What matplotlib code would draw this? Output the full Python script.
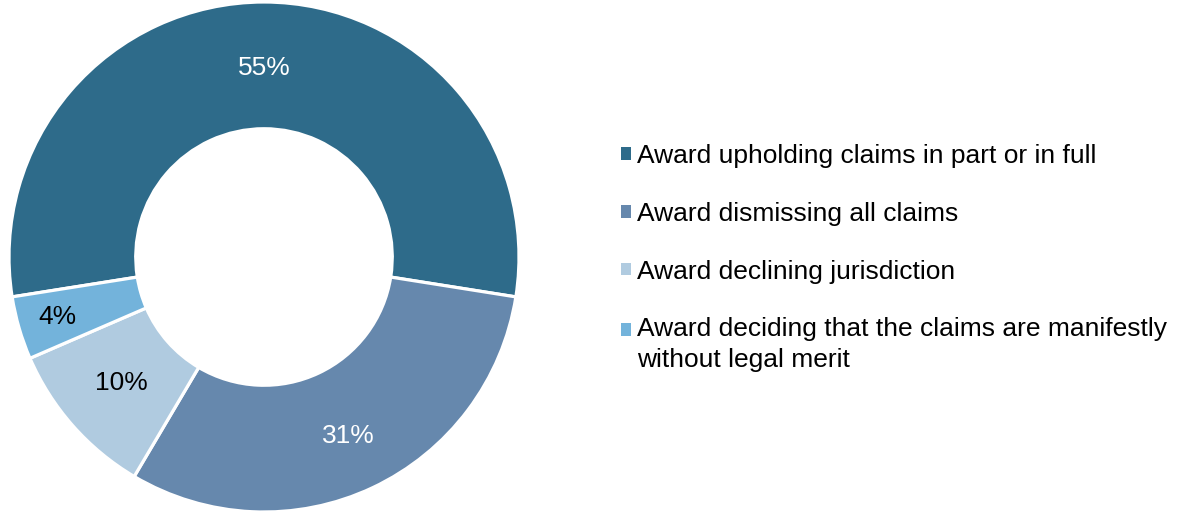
import numpy as np
import matplotlib.pyplot as plt

plt.rcParams['font.family'] = ['Liberation Sans', 'DejaVu Sans']

# data
categories = ["Award upholding claims in part or in full",
              "Award dismissing all claims",
              "Award declining jurisdiction",
              "Award deciding that the claims are manifestly\nwithout legal merit"]
shares = [55, 31, 10, 4]
colors = ["#2E6B8A", "#6688AD", "#B0CBE0", "#73B3DB"]
label_colors = ["white", "white", "black", "black"]
label_radius = [0.74, 0.776, 0.745, 0.845]

W, H = 1178, 513
fig = plt.figure(figsize=(W / 100, H / 100), dpi=100)

# donut axes: centre (264, 257) px, radius ~255 px
cx, cy, r = 264, 257, 255
ax = fig.add_axes([(cx - r) / W, (H - cy - r) / H, 2 * r / W, 2 * r / H])

wedges, texts, autotexts = ax.pie(
    shares, colors=colors, startangle=189, counterclock=False, radius=1.0,
    wedgeprops=dict(width=0.497, edgecolor="white", linewidth=2.3),
    autopct=lambda p: f"{p:.0f}%", pctdistance=0.75,
    textprops=dict(fontsize=19))
for w, t, c, lr in zip(wedges, autotexts, label_colors, label_radius):
    ang = np.deg2rad((w.theta1 + w.theta2) / 2)
    t.set_position((lr * np.cos(ang), lr * np.sin(ang)))
    t.set_color(c)
ax.set_xlim(-1, 1)
ax.set_ylim(-1, 1)
ax.set_aspect("equal")

leg = fig.legend(wedges, categories, loc="upper left",
                 bbox_to_anchor=(621 / W, 1 - 144 / H),
                 frameon=False, fontsize=19, handlelength=0.36, handleheight=0.36,
                 handletextpad=0.25, labelspacing=1.28, borderpad=0,
                 borderaxespad=0)
for h in leg.legend_handles:
    h.set_linewidth(0)
for t in leg.get_texts():
    t.set_linespacing(1.35)
# square of the two-line entry sits next to its first line
last = leg.legend_handles[-1]
last.set_y(last.get_y() + 10.8)

fig.savefig("out.png", dpi=100)
